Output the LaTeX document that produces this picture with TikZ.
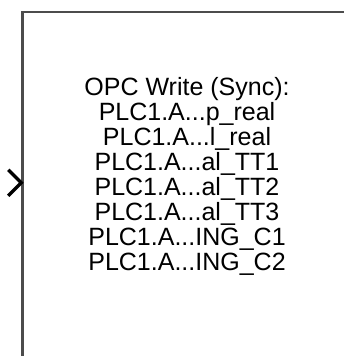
\documentclass[tikz,border=0pt]{standalone}
\usepackage{fontspec}
\setmainfont{Liberation Sans}
\usetikzlibrary{positioning}

\begin{document}
\begin{tikzpicture}[x=1pt, y=-1pt]
    \useasboundingbox (0,0) rectangle (344,356);
    \clip (0,0) rectangle (344,356);
    \node[draw=black!70, line width=2.5pt, minimum width=329pt, minimum height=352pt] (OPC) at (187,188) {};
    \node[align=center, font=\fontsize{25}{25}\selectfont] (tags) at (187,176)
        {OPC Write (Sync):\\
         PLC1.A...p\_real\\
         PLC1.A...l\_real\\
         PLC1.A...al\_TT1\\
         PLC1.A...al\_TT2\\
         PLC1.A...al\_TT3\\
         PLC1.A...ING\_C1\\
         PLC1.A...ING\_C2};
    % input port
    \coordinate (in) at ([yshift=-172pt]OPC.north west);
    \draw[line width=3.5pt] (in) ++(-13,-13) -- (in) -- ++(-13,13);
\end{tikzpicture}
\end{document}
